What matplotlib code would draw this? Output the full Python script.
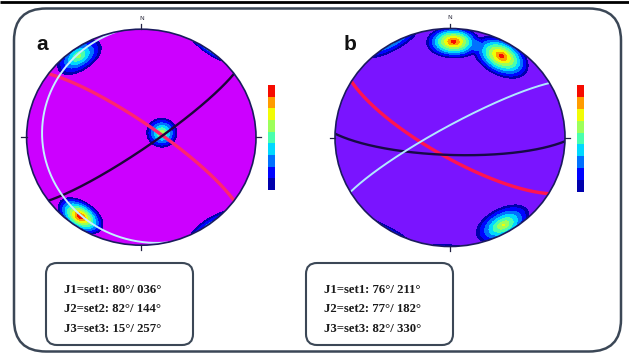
import numpy as np
import matplotlib
matplotlib.use('Agg')
import matplotlib.pyplot as plt
from matplotlib.patches import FancyBboxPatch, Circle

# ---------------- data ----------------
set_names = ['J1=set1', 'J2=set2', 'J3=set3']

# panel a: joint sets (dip / dip direction)
a_dip = [80, 82, 15]
a_dipdir = [36, 144, 257]
a_peak = [0.95, 0.6, 0.64]       # relative pole density peak
a_spread = [14.8, 15.0, 12.0]    # angular radius of pole cluster (deg)

# panel b
b_dip = [76, 77, 82]
b_dipdir = [211, 182, 330]
b_peak = [0.92, 0.93, 0.68]
b_spread = [18.0, 16.0, 17.0]

density_levels = [0.07, 0.15, 0.25, 0.35, 0.45, 0.55, 0.65, 0.75, 0.85, 1.05]

W, H = 629, 353
fig = plt.figure(figsize=(W / 100, H / 100), dpi=100)
fig.patch.set_facecolor('white')

# background axes in pixel coordinates
bg = fig.add_axes([0, 0, 1, 1])
bg.set_xlim(0, W)
bg.set_ylim(H, 0)
bg.axis('off')
bg.plot([0, W], [2, 2], color='black', lw=2.0, solid_capstyle='butt')
bg.add_patch(FancyBboxPatch((14, 8.5), 607, 343, boxstyle='round,pad=0,rounding_size=32',
                            fc='white', ec='#3b4756', lw=1.8))


def pole_vec(dip, dipdir):
    tr = np.radians((dipdir + 180.0) % 360.0)
    pl = np.radians(90.0 - dip)
    return np.array([np.cos(pl) * np.sin(tr), np.cos(pl) * np.cos(tr), np.sin(pl)])


def project(v):
    vx, vy, vz = v
    sgn = np.where(vz < 0, -1.0, 1.0)
    vx, vy, vz = vx * sgn, vy * sgn, vz * sgn
    pl = np.arcsin(np.clip(vz, -1, 1))
    tr = np.arctan2(vx, vy)
    r = np.sqrt(2) * np.sin((np.pi / 2 - pl) / 2)
    return r * np.sin(tr), r * np.cos(tr)


def great_circle(dip, dipdir):
    dd = np.radians(dipdir)
    d = np.radians(dip)
    s = np.array([np.sin(dd - np.pi / 2), np.cos(dd - np.pi / 2), 0.0])
    dv = np.array([np.cos(d) * np.sin(dd), np.cos(d) * np.cos(dd), np.sin(d)])
    t = np.linspace(0, np.pi, 300)
    v = np.outer(np.cos(t), s) + np.outer(np.sin(t), dv)
    return project(v.T)


def stereonet(cx, cy, rx, ry, dips, dipdirs, peaks, spreads, bgcol, line_cols, cbar_rect, label, lx):
    L = 1.06
    ax = fig.add_axes([(cx - rx * L) / W, 1 - (cy + ry * L) / H, 2 * rx * L / W, 2 * ry * L / H])
    ax.set_xlim(-L, L)
    ax.set_ylim(-L, L)
    ax.axis('off')
    disk = Circle((0, 0), 1.0, fc=bgcol, ec='none', zorder=1)
    ax.add_patch(disk)

    n = 360
    g = np.linspace(-1, 1, n)
    X, Y = np.meshgrid(g, g)
    R = np.hypot(X, Y)
    theta = 2 * np.arcsin(np.clip(R / np.sqrt(2), 0, 1))
    pl = np.pi / 2 - theta
    az = np.arctan2(X, Y)
    V = np.stack([np.cos(pl) * np.sin(az), np.cos(pl) * np.cos(az), np.sin(pl)], axis=-1)
    D = np.zeros_like(X)
    for dp, dd, pk, sp in zip(dips, dipdirs, peaks, spreads):
        c = pole_vec(dp, dd)
        ang = np.degrees(np.arccos(np.clip(np.abs(V @ c), 0, 1)))
        D += pk * np.clip(1 - ang / sp, 0, 1)
    D = np.ma.masked_where(R > 1.02, D)
    cs = ax.contourf(X, Y, D, levels=density_levels, cmap='jet', zorder=2)
    cs.set_clip_path(disk)

    widths = [2.4, 1.7, 1.4]
    for (dp, dd, col, lw) in zip(dips, dipdirs, line_cols, widths):
        x, y = great_circle(dp, dd)
        ln, = ax.plot(x, y, color=col, lw=lw, zorder=4)
        ln.set_clip_path(disk)

    ax.add_patch(Circle((0, 0), 1.0, fc='none', ec='#1b1b5e', lw=1.2, zorder=5))
    for a_deg in [0, 90, 180, 270]:
        a = np.radians(a_deg)
        ax.plot([np.sin(a), 1.045 * np.sin(a)], [np.cos(a), 1.045 * np.cos(a)],
                color='#222244', lw=0.9, zorder=5, clip_on=False)
    ax.text(0, 1.075, 'N', ha='center', va='bottom', fontsize=4.5, color='#333344', clip_on=False)

    cax = fig.add_axes(cbar_rect)
    cb = fig.colorbar(cs, cax=cax)
    cb.set_ticks([])
    cb.outline.set_linewidth(0)

    bg.text(lx, 50, label, fontsize=15, fontweight='bold', family='Liberation Sans',
            ha='left', va='baseline', color='#111111')


stereonet(141.3, 137.2, 114.7, 108.0, a_dip, a_dipdir, a_peak, a_spread, '#cc00ff',
          ['#ff2470', '#1c0638', '#c4f0ff'],
          [268 / W, 1 - 190 / H, 7 / W, 105 / H], 'a', 36)
stereonet(450.0, 137.5, 115.0, 109.0, b_dip, b_dipdir, b_peak, b_spread, '#7a14ff',
          ['#ff1450', '#170a45', '#b0e8ff'],
          [577 / W, 1 - 192 / H, 7 / W, 107 / H], 'b', 344)


def info_box(x0, tx, dips, dipdirs):
    bg.add_patch(FancyBboxPatch((x0, 263), 147, 82, boxstyle='round,pad=0,rounding_size=11',
                                fc='white', ec='#3b4756', lw=1.5))
    for i, (nm, dp, dd) in enumerate(zip(set_names, dips, dipdirs)):
        bg.text(tx, 290 + 19.5 * i, f'{nm}: {dp}\u00b0/ {dd:03d}\u00b0', family='Liberation Serif',
                fontweight='bold', fontsize=9.2, ha='left', va='center', color='#1a1a1a')


info_box(46, 64, a_dip, a_dipdir)
info_box(306, 324, b_dip, b_dipdir)

fig.savefig('out.png', dpi=100)
